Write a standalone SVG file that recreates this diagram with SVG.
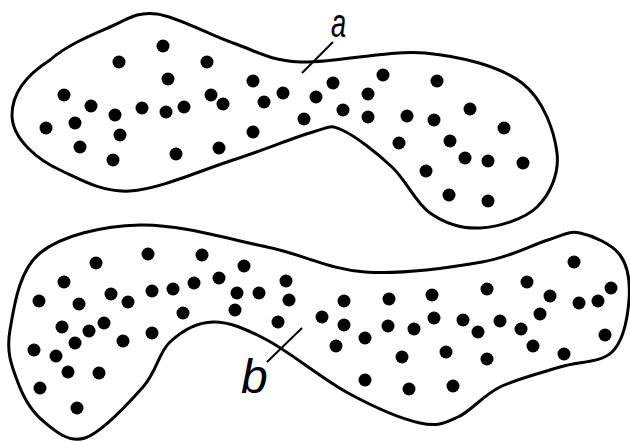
<svg xmlns="http://www.w3.org/2000/svg" width="630" height="441" viewBox="0 0 630 441">
<style>
.outline{fill:none;stroke:#000;stroke-width:3;stroke-linejoin:round}
.dot{fill:#000}
.leader{stroke:#000;stroke-width:2;fill:none}
.lbl{font-family:"Liberation Sans",Arial,sans-serif;font-style:italic;fill:#000}
</style>
<rect width="630" height="441" fill="#fff"/>
<g id="region-a">
<path class="outline" d="M12,115 C12,92 28,74 50,60 C66.3,45.3 92.2,34.7 110,27 C127.8,19.3 136.5,11.3 157,14 C177.5,16.7 209.2,35 233,43 C256.8,51 268,60.3 300,62 C332,63.7 388,49.5 425,53 C462,56.5 500,66.3 522,83 C544,99.7 554.5,132.3 557,153 C559.5,173.7 549.8,194.5 537,207 C524.2,219.5 497.8,227 480,228 C462.2,229 444.7,223.2 430,213 C415.3,202.8 406.7,180.8 392,167 C377.3,153.2 355.2,135.8 342,130 C328.8,124.2 331.2,127 313,132 C294.8,137 263.5,150.2 233,160 C202.5,169.8 158.8,189.3 130,191 C101.2,192.7 78.7,178.5 60,170 C40,161 12,140 12,115 Z"/>
<g class="dot">
<circle cx="163" cy="46" r="6.5"/><circle cx="119" cy="62" r="6.5"/><circle cx="207" cy="62" r="6.5"/><circle cx="168" cy="79" r="6.5"/><circle cx="253" cy="81" r="6.5"/><circle cx="64" cy="95" r="6.5"/><circle cx="283" cy="93" r="6.5"/><circle cx="211" cy="95" r="6.5"/><circle cx="223" cy="104" r="6.5"/><circle cx="264" cy="102" r="6.5"/><circle cx="316" cy="97" r="6.5"/><circle cx="91" cy="106" r="6.5"/><circle cx="115" cy="115" r="6.5"/><circle cx="142" cy="108" r="6.5"/><circle cx="166" cy="112" r="6.5"/><circle cx="184" cy="107" r="6.5"/><circle cx="304" cy="119" r="6.5"/><circle cx="46" cy="128" r="6.5"/><circle cx="75" cy="123" r="6.5"/><circle cx="120" cy="135" r="6.5"/><circle cx="253" cy="132" r="6.5"/><circle cx="80" cy="147" r="6.5"/><circle cx="113" cy="160" r="6.5"/><circle cx="176" cy="154" r="6.5"/><circle cx="219" cy="148" r="6.5"/>
<circle cx="383" cy="75" r="6.5"/><circle cx="333" cy="83" r="6.5"/><circle cx="437" cy="81" r="6.5"/><circle cx="368" cy="94" r="6.5"/><circle cx="343" cy="110" r="6.5"/><circle cx="368" cy="117" r="6.5"/><circle cx="407" cy="116" r="6.5"/><circle cx="434" cy="120" r="6.5"/><circle cx="470" cy="109" r="6.5"/><circle cx="504" cy="128" r="6.5"/><circle cx="399" cy="143" r="6.5"/><circle cx="450" cy="141" r="6.5"/><circle cx="465" cy="158" r="6.5"/><circle cx="488" cy="161" r="6.5"/><circle cx="523" cy="163" r="6.5"/><circle cx="426" cy="171" r="6.5"/><circle cx="449" cy="195" r="6.5"/><circle cx="488" cy="201" r="6.5"/>
</g>
</g>
<g id="region-b">
<path class="outline" d="M10,330 C13.8,308.8 18.3,270.5 40,253 C61.7,235.5 102.2,226 140,225 C177.8,224 229.5,239.2 267,247 C304.5,254.8 329.2,269.5 365,272 C400.8,274.5 451.5,267.3 482,262 C512.5,256.7 531.7,244.8 548,240 C564.3,235.2 568,230.5 580,233 C592,235.5 611.8,243.8 620,255 C628.2,266.2 630.3,283.8 629,300 C627.7,316.2 623.5,340.8 612,352 C600.5,363.2 578.7,361.2 560,367 C541.3,372.8 517,378.7 500,387 C483,395.3 471.3,411 458,417 C444.7,423 438.3,427 420,423 C401.7,419 373.5,406.8 348,393 C322.5,379.2 289.5,351.8 267,340 C244.5,328.2 229.2,321.7 213,322 C196.8,322.3 181.7,331.2 170,342 C158.3,352.8 157.2,371 143,387 C128.8,403 101.8,432.5 85,438 C68.2,443.5 53.3,429.7 42,420 C30.7,410.3 22.3,395 17,380 C11.2,365 6.2,351.2 10,330 Z"/>
<g class="dot">
<circle cx="148" cy="254" r="6.5"/><circle cx="202" cy="255" r="6.5"/><circle cx="96" cy="263" r="6.5"/><circle cx="244" cy="266" r="6.5"/><circle cx="64" cy="282" r="6.5"/><circle cx="219" cy="278" r="6.5"/><circle cx="286" cy="281" r="6.5"/><circle cx="152" cy="291" r="6.5"/><circle cx="173" cy="289" r="6.5"/><circle cx="194" cy="283" r="6.5"/><circle cx="39" cy="301" r="6.5"/><circle cx="79" cy="304" r="6.5"/><circle cx="111" cy="294" r="6.5"/><circle cx="128" cy="302" r="6.5"/><circle cx="237" cy="293" r="6.5"/><circle cx="259" cy="293" r="6.5"/><circle cx="289" cy="300" r="6.5"/><circle cx="183" cy="313" r="6.5"/><circle cx="235" cy="310" r="6.5"/><circle cx="278" cy="322" r="6.5"/><circle cx="62" cy="327" r="6.5"/><circle cx="89" cy="331" r="6.5"/><circle cx="104" cy="323" r="6.5"/><circle cx="75" cy="343" r="6.5"/><circle cx="123" cy="341" r="6.5"/><circle cx="152" cy="333" r="6.5"/><circle cx="34" cy="350" r="6.5"/><circle cx="56" cy="356" r="6.5"/><circle cx="68" cy="372" r="6.5"/><circle cx="99" cy="373" r="6.5"/><circle cx="40" cy="388" r="6.5"/><circle cx="77" cy="408" r="6.5"/>
<circle cx="574" cy="262" r="6.5"/><circle cx="527" cy="282" r="6.5"/><circle cx="487" cy="289" r="6.5"/><circle cx="611" cy="288" r="6.5"/><circle cx="550" cy="296" r="6.5"/><circle cx="579" cy="303" r="6.5"/><circle cx="598" cy="301" r="6.5"/><circle cx="344" cy="301" r="6.5"/><circle cx="389" cy="299" r="6.5"/><circle cx="432" cy="295" r="6.5"/><circle cx="322" cy="317" r="6.5"/><circle cx="344" cy="325" r="6.5"/><circle cx="388" cy="326" r="6.5"/><circle cx="414" cy="329" r="6.5"/><circle cx="434" cy="318" r="6.5"/><circle cx="463" cy="320" r="6.5"/><circle cx="500" cy="321" r="6.5"/><circle cx="540" cy="314" r="6.5"/><circle cx="478" cy="332" r="6.5"/><circle cx="521" cy="329" r="6.5"/><circle cx="365" cy="338" r="6.5"/><circle cx="336" cy="346" r="6.5"/><circle cx="605" cy="335" r="6.5"/><circle cx="533" cy="346" r="6.5"/><circle cx="564" cy="354" r="6.5"/><circle cx="402" cy="357" r="6.5"/><circle cx="446" cy="352" r="6.5"/><circle cx="487" cy="359" r="6.5"/><circle cx="365" cy="380" r="6.5"/><circle cx="409" cy="389" r="6.5"/><circle cx="453" cy="386" r="6.5"/>
</g>
</g>
<g id="connectors">
<line class="leader" x1="302" y1="73" x2="333" y2="42"/>
<line class="leader" x1="267" y1="362" x2="302" y2="328"/>
</g>
<g id="label-a"><text class="lbl" font-size="40" transform="translate(331,36.5) scale(0.68,1)">a</text></g>
<g id="label-b"><text class="lbl" font-size="48" x="241" y="393">b</text></g>
</svg>
